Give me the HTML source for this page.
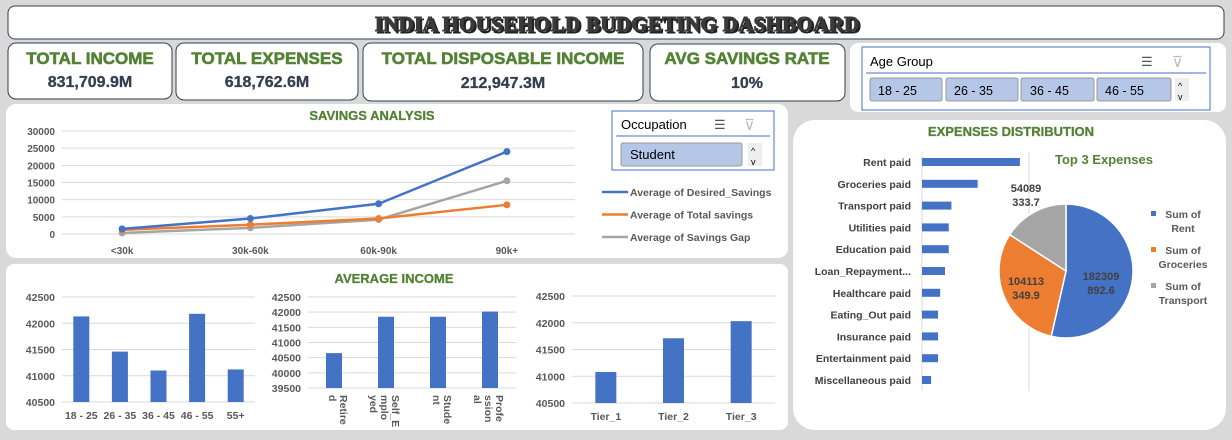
<!DOCTYPE html>
<html><head><meta charset="utf-8"><style>
body{margin:0;width:1232px;height:435px;overflow:hidden;background:#d9d9d9;font-family:"Liberation Sans",sans-serif}
svg text{font-family:"Liberation Sans",sans-serif}
</style></head><body>
<svg id="dash" width="1232" height="435" viewBox="0 0 1232 435">
<!-- title -->
<rect x="8" y="6" width="1216" height="33" rx="7" fill="#fff" stroke="#333f50"/>
<text x="619" y="33" text-anchor="middle" font-weight="bold" font-size="21" fill="#222" stroke="#222" stroke-width="0.9" style="font-family:'Liberation Serif',serif;letter-spacing:0.3px">INDIA HOUSEHOLD BUDGETING DASHBOARD</text>
<text x="617" y="31" text-anchor="middle" font-weight="bold" font-size="21" fill="#3a3a3a" stroke="#3a3a3a" stroke-width="0.9" style="font-family:'Liberation Serif',serif;letter-spacing:0.3px">INDIA HOUSEHOLD BUDGETING DASHBOARD</text>
<!-- KPIs -->
<g><rect x="8" y="43" width="164" height="56" rx="8" fill="#fff" stroke="#333f50"/>
<text x="90" y="64" text-anchor="middle" font-weight="bold" font-size="17" fill="#548235" stroke="#548235" stroke-width="0.6">TOTAL INCOME</text>
<text x="90" y="87" text-anchor="middle" font-weight="bold" font-size="16" fill="#333f50" stroke="#333f50" stroke-width="0.3">831,709.9M</text></g>
<g><rect x="176" y="43" width="182" height="57" rx="8" fill="#fff" stroke="#333f50"/>
<text x="267" y="64" text-anchor="middle" font-weight="bold" font-size="17" fill="#548235" stroke="#548235" stroke-width="0.6">TOTAL EXPENSES</text>
<text x="267" y="87" text-anchor="middle" font-weight="bold" font-size="16" fill="#333f50" stroke="#333f50" stroke-width="0.3">618,762.6M</text></g>
<g><rect x="363" y="43" width="280" height="58" rx="8" fill="#fff" stroke="#333f50"/>
<text x="503" y="64" text-anchor="middle" font-weight="bold" font-size="17" fill="#548235" stroke="#548235" stroke-width="0.6">TOTAL DISPOSABLE INCOME</text>
<text x="503" y="88" text-anchor="middle" font-weight="bold" font-size="16" fill="#333f50" stroke="#333f50" stroke-width="0.3">212,947.3M</text></g>
<g><rect x="650" y="44" width="195" height="57" rx="8" fill="#fff" stroke="#333f50"/>
<text x="747" y="64" text-anchor="middle" font-weight="bold" font-size="17" fill="#548235" stroke="#548235" stroke-width="0.6">AVG SAVINGS RATE</text>
<text x="747" y="88" text-anchor="middle" font-weight="bold" font-size="16" fill="#333f50" stroke="#333f50" stroke-width="0.3">10%</text></g>
<!-- age slicer -->
<g>
<rect x="850" y="43" width="376" height="69" rx="8" fill="#fff"/>
<rect x="862" y="47" width="348" height="63" fill="#fff" stroke="#4472c4"/>
<text x="870" y="66" font-size="13" fill="#000">Age Group</text>
<text x="1141" y="66" font-size="13" fill="#555">☰</text><text x="1172" y="67" font-size="15" fill="#bbb">⊽</text>
<line x1="866" y1="73" x2="1206" y2="73" stroke="#4472c4"/>
<rect x="870" y="78" width="72" height="23" rx="2" fill="#b4c7e7" stroke="#999"/><text x="878" y="95" font-size="12.5">18 - 25</text>
<rect x="946" y="78" width="72" height="23" rx="2" fill="#b4c7e7" stroke="#999"/><text x="954" y="95" font-size="12.5">26 - 35</text>
<rect x="1021" y="78" width="73" height="23" rx="2" fill="#b4c7e7" stroke="#999"/><text x="1030" y="95" font-size="12.5">36 - 45</text>
<rect x="1097" y="78" width="74" height="23" rx="2" fill="#b4c7e7" stroke="#999"/><text x="1105" y="95" font-size="12.5">46 - 55</text>
<rect x="1175" y="78" width="14" height="23" fill="#eee"/><text x="1178" y="89" font-size="9">^</text><text x="1178" y="100" font-size="9">v</text>
</g>
<!-- panels -->
<rect x="6" y="104" width="782" height="154" rx="10" fill="#fff"/>
<rect x="6" y="264" width="782" height="166" rx="8" fill="#fff"/>
<rect x="793" y="120" width="433" height="310" rx="22" fill="#fff"/>
<text x="372" y="120" text-anchor="middle" font-weight="bold" font-size="13" fill="#548235" stroke="#548235" stroke-width="0.3">SAVINGS ANALYSIS</text>
<text x="394" y="283" text-anchor="middle" font-weight="bold" font-size="13" fill="#548235" stroke="#548235" stroke-width="0.3">AVERAGE INCOME</text>
<text x="1011" y="136" text-anchor="middle" font-weight="bold" font-size="13" fill="#548235" stroke="#548235" stroke-width="0.3">EXPENSES DISTRIBUTION</text>
<!-- occupation slicer -->
<g>
<rect x="612" y="111" width="162" height="59" fill="#fff" stroke="#4472c4"/>
<text x="621" y="129" font-size="13">Occupation</text>
<text x="714" y="129" font-size="13" fill="#555">☰</text><text x="744" y="130" font-size="15" fill="#bbb">⊽</text>
<line x1="616" y1="136" x2="770" y2="136" stroke="#4472c4"/>
<rect x="621" y="143" width="121" height="23" rx="2" fill="#b4c7e7" stroke="#999"/><text x="630" y="159" font-size="13">Student</text>
<rect x="748" y="143" width="14" height="23" fill="#eee"/><text x="751" y="154" font-size="9">^</text><text x="751" y="165" font-size="9">v</text>
</g>
<g id="charts"></g>
</svg>
<script>
const NS='http://www.w3.org/2000/svg';
const root=document.getElementById('charts');
function mk(tag,attrs,txt){const e=document.createElementNS(NS,tag);for(const k in attrs)e.setAttribute(k,attrs[k]);if(txt!==undefined)e.textContent=txt;root.appendChild(e);return e;}

// ---- Savings line chart data
const savCats=['<30k','30k-60k','60k-90k','90k+'];
const desiredSavings=[1500,4500,8800,24000];
const totalSavings=[1200,2700,4500,8500];
const savingsGap=[300,1800,4200,15500];
const savTicks=[0,5000,10000,15000,20000,25000,30000];

// ---- Average income data
const ageCats=['18 - 25','26 - 35','36 - 45','46 - 55','55+'];
const ageIncome=[42130,41460,41100,42180,41120];
const ageTicks=[40500,41000,41500,42000,42500];
const occCats=[['Retire','d'],['Self_E','mplo','yed'],['Stude','nt'],['Profe','ssion','al']];
const occIncome=[40650,41850,41850,42020];
const occTicks=[39500,40000,40500,41000,41500,42000,42500];
const tierCats=['Tier_1','Tier_2','Tier_3'];
const tierIncome=[41080,41710,42030];
const tierTicks=[40500,41000,41500,42000,42500];

// ---- Expenses data (millions)
const expCats=['Rent paid','Groceries paid','Transport paid','Utilities paid','Education paid','Loan_Repayment...','Healthcare paid','Eating_Out paid','Insurance paid','Entertainment paid','Miscellaneous paid'];
const expValues=[183,104,55,50,50,43,34,30,30,30,17];
const pieLabels=['Sum of Rent','Sum of Groceries','Sum of Transport'];
const pieValues=[182309892.6,104113349.9,54089333.7];
const pieText=[['182309','892.6'],['104113','349.9'],['54089','333.7']];
const pieColors=['#4472c4','#ed7d31','#a5a5a5'];

// Savings chart
(function(){
  const x0=62,x1=575,yTop=131,yBot=234,min=0,max=30000;
  const y=v=>yBot-(v-min)/(max-min)*(yBot-yTop);
  const step=(x1-x0)/savCats.length;
  const x=i=>x0+step*(i+0.5)-4;
  savTicks.forEach(t=>{
    let l=mk('line',{x1:x0,x2:x1,y1:y(t),y2:y(t),stroke:'#d9d9d9'});
    
    let tx=mk('text',{x:55,y:y(t)+4,'text-anchor':'end','font-size':10,'font-weight':'bold',fill:'#595959'},t);
    
  });
  savCats.forEach((c,i)=>{let t=mk('text',{x:x(i),y:254,'text-anchor':'middle','font-size':10,'font-weight':'bold',fill:'#595959'},c);
    });
  const series=[[savingsGap,'#a5a5a5','savings-gap-line'],[totalSavings,'#ed7d31','total-savings-line'],[desiredSavings,'#4472c4','desired-savings-line']];
  series.forEach(([arr,col,name])=>{
    let p=mk('polyline',{points:arr.map((v,i)=>x(i)+','+y(v)).join(' '),fill:'none',stroke:col,'stroke-width':2.5});
    
    arr.forEach((v,i)=>{let c=mk('circle',{cx:x(i),cy:y(v),r:3.5,fill:col});
      });
  });
  const leg=[['Average of Desired_Savings','#4472c4'],['Average of Total savings','#ed7d31'],['Average of Savings Gap','#a5a5a5']];
  leg.forEach(([t,c],i)=>{const yy=192+i*22.5;
    let l=mk('line',{x1:602,x2:628,y1:yy,y2:yy,stroke:c,'stroke-width':2.5});
    
    let tx=mk('text',{x:630,y:yy+4,'font-size':10.5,'font-weight':'bold',fill:'#595959'},t);
    });
})();

// Bar chart helper
function barChart(cats,vals,ticks,o){
  const min=ticks[0],max=ticks[ticks.length-1];
  const y=v=>o.yBot-(v-min)/(max-min)*(o.yBot-o.yTop);
  ticks.forEach(t=>{
    let l=mk('line',{x1:o.x0,x2:o.x1,y1:y(t),y2:y(t),stroke:'#d9d9d9'});
    
    let tx=mk('text',{x:o.x0-7,y:y(t)+4,'text-anchor':'end','font-size':10.5,'font-weight':'bold',fill:'#595959'},t);
    
  });
  const step=(o.x1-o.x0)/cats.length;
  cats.forEach((c,i)=>{
    const cx=o.x0+step*(i+0.5);
    let r=mk('rect',{x:cx-o.bw/2,y:y(vals[i]),width:o.bw,height:o.yBot-y(vals[i]),fill:'#4472c4'});
    
    if(Array.isArray(c)){
      c.forEach((part,j)=>{let t=mk('text',{x:0,y:0,'font-size':10.5,'font-weight':'bold',fill:'#595959',transform:`translate(${cx+6-j*11},${o.yBot+7}) rotate(90)`},part);
        });
    }else{
      let t=mk('text',{x:cx,y:o.yBot+17,'text-anchor':'middle','font-size':10.5,'font-weight':'bold',fill:'#595959'},c);
      
    }
  });
}
barChart(ageCats,ageIncome,ageTicks,{x0:62,x1:255,yTop:297,yBot:402,bw:16,name:'age-income'});
barChart(occCats,occIncome,occTicks,{x0:308,x1:516,yTop:297,yBot:388,bw:16,name:'occupation-income'});
barChart(tierCats,tierIncome,tierTicks,{x0:572,x1:775,yTop:296,yBot:403,bw:21,name:'tier-income'});

// Expenses horizontal bars
(function(){
  const x0=922,px=107/200;
  [x0,1029].forEach(gx=>{let l=mk('line',{x1:gx,x2:gx,y1:152,y2:391,stroke:'#d9d9d9'});
    });
  expCats.forEach((c,i)=>{const yc=162+i*21.8;
    let r=mk('rect',{x:x0,y:yc-4,width:expValues[i]*px,height:8,fill:'#4472c4'});
    
    let t=mk('text',{x:911,y:yc+4,'text-anchor':'end','font-size':10.5,'font-weight':'bold',fill:'#404040'},c);
    });
  let tt=mk('text',{x:1104,y:164,'text-anchor':'middle','font-size':13,'font-weight':'bold',fill:'#548235'},'Top 3 Expenses');
  
  const cx=1066,cy=271,R=67,tot=pieValues.reduce((a,b)=>a+b,0);
  let a=-Math.PI/2;
  const lblPos=[[1101,280],[1026,285],[1026,192]];
  pieValues.forEach((v,i)=>{
    const a2=a+v/tot*2*Math.PI;
    const p=`M${cx},${cy} L${cx+R*Math.cos(a)},${cy+R*Math.sin(a)} A${R},${R} 0 ${a2-a>Math.PI?1:0} 1 ${cx+R*Math.cos(a2)},${cy+R*Math.sin(a2)} Z`;
    let s=mk('path',{d:p,fill:pieColors[i],stroke:'#fff','stroke-width':1.5});
    
    a=a2;
    pieText[i].forEach((ln,j)=>{let t=mk('text',{x:lblPos[i][0],y:lblPos[i][1]+j*14,'text-anchor':'middle','font-size':11,'font-weight':'bold',fill:'#404040'},ln);
      });
  });
  const legY=[218,254,290];
  pieLabels.forEach((l,i)=>{
    let r=mk('rect',{x:1151,y:legY[i]-7,width:5,height:5,fill:pieColors[i]});
    
    const words=['Sum of',l.replace('Sum of ','')];
    words.forEach((w,j)=>{let t=mk('text',{x:1183,y:legY[i]+j*14,'text-anchor':'middle','font-size':10.5,'font-weight':'bold',fill:'#595959'},w);
      });
  });
})();
</script>
</body></html>
